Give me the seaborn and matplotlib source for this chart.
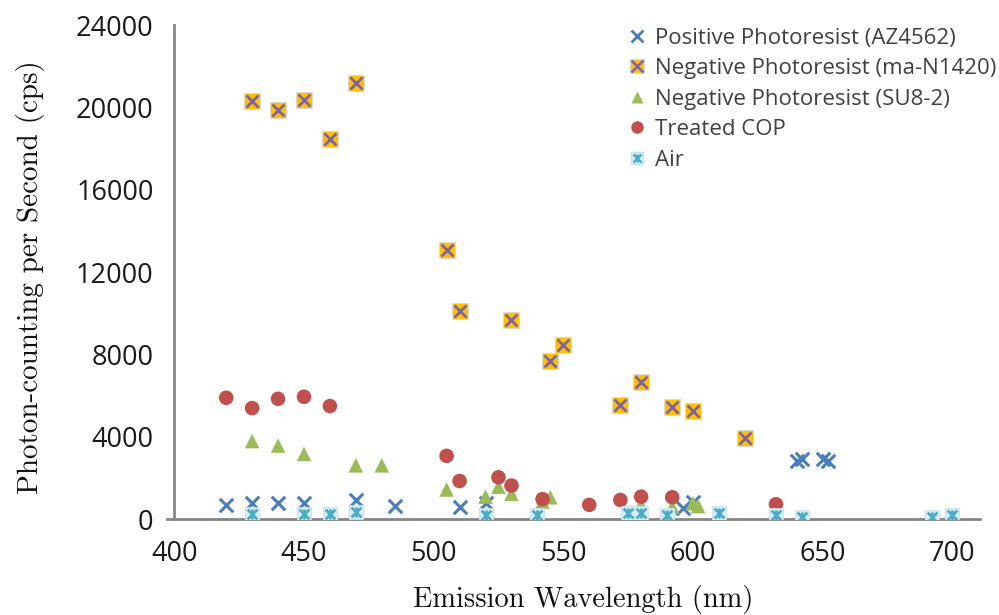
import numpy as np
import pandas as pd
import matplotlib
matplotlib.use('Agg')
import matplotlib.pyplot as plt
import seaborn as sns
from matplotlib.lines import Line2D

# Positive Photoresist (AZ4562)
pos_x = [420, 430, 440, 450, 470, 485, 510, 520, 596, 600, 640, 642, 650, 652]
pos_y = [700, 780, 780, 780, 940, 650, 610, 780, 540, 850, 2850, 2950, 2950, 2850]

# Negative Photoresist (ma-N1420)
man_x = [430, 440, 450, 460, 470, 505, 510, 530, 545, 550, 572, 580, 592, 600, 620]
man_y = [20300, 19850, 20350, 18450, 21200, 13080, 10120, 9680, 7700, 8470, 5560, 6680, 5460, 5270, 3960]

# Negative Photoresist (SU8-2)
su8_x = [430, 440, 450, 470, 480, 505, 520, 525, 530, 542, 545, 580, 592, 600, 602]
su8_y = [3800, 3580, 3170, 2620, 2620, 1450, 1100, 1580, 1240, 860, 1070, 700, 610, 780, 640]

# Treated COP
cop_x = [420, 430, 440, 450, 460, 505, 510, 525, 530, 542, 560, 572, 580, 592, 632]
cop_y = [5900, 5400, 5850, 5950, 5500, 3080, 1860, 2040, 1640, 980, 700, 940, 1100, 1070, 730]

# Air
air_x = [430, 450, 460, 470, 520, 540, 575, 580, 590, 610, 632, 642, 692, 700]
air_y = [260, 260, 260, 340, 210, 210, 290, 290, 210, 290, 210, 130, 130, 210]

labels = ['Positive Photoresist (AZ4562)', 'Negative Photoresist (ma-N1420)',
          'Negative Photoresist (SU8-2)', 'Treated COP', 'Air']

blue = '#4a7ebb'
gold = '#ffc000'
purple = '#8064a2'
green = '#9bbb59'
red = '#c0504d'
cyan = '#4bacc6'
cyan_fill = '#d6eef5'
axis_gray = '#868686'

sns.set_style('white')
plt.rcParams['font.family'] = ['Open Sans', 'DejaVu Sans']

fig = plt.figure(figsize=(9.99, 6.15), dpi=100)
ax = fig.add_axes([0.1745, 0.1556, 0.806, 0.8037])

sns.scatterplot(x=pos_x, y=pos_y, ax=ax, marker='x', s=95, color=blue, linewidth=2.2, zorder=3)
sns.scatterplot(x=man_x, y=man_y, ax=ax, marker='s', s=130, color=gold, edgecolor='#d9d9d9', linewidth=0.6, zorder=3)
sns.scatterplot(x=man_x, y=man_y, ax=ax, marker='x', s=75, color=purple, linewidth=2, zorder=4)
sns.scatterplot(x=su8_x, y=su8_y, ax=ax, marker='^', s=110, color=green, edgecolor='none', zorder=3)
sns.scatterplot(x=cop_x, y=cop_y, ax=ax, marker='o', s=110, color=red, edgecolor='none', zorder=3)
# Air: light square with a cyan asterisk (x plus a vertical bar)
sns.scatterplot(x=air_x, y=air_y, ax=ax, marker='s', s=100, color=cyan_fill, edgecolor='#c8dfe6', linewidth=0.6, zorder=5)
sns.scatterplot(x=air_x, y=air_y, ax=ax, marker='x', s=50, color=cyan, linewidth=2, zorder=6)
sns.scatterplot(x=air_x, y=air_y, ax=ax, marker='|', s=50, color=cyan, linewidth=2, zorder=6)

ax.set_xlim(400, 710.5)
ax.set_ylim(0, 24000)
ax.set_xticks([400, 450, 500, 550, 600, 650, 700])
ax.set_yticks(np.arange(0, 24001, 4000))
ax.tick_params(axis='both', labelsize=19.5, colors=axis_gray, labelcolor='#1a1a1a',
               direction='out', length=6, width=2)
ax.tick_params(axis='x', pad=8, length=7)
ax.tick_params(axis='y', pad=9)
sns.despine(ax=ax)
for side in ['left', 'bottom']:
    ax.spines[side].set_color(axis_gray)
    ax.spines[side].set_linewidth(2)
ax.spines['bottom'].set_bounds(397.2, 710.5)

ax.set_xlabel('Emission Wavelength (nm)', family='cmr10', fontsize=20.5, color='#111111')
ax.set_ylabel('Photon-counting per Second (cps)', family='cmr10', fontsize=21, color='#111111')
ax.xaxis.set_label_coords(0.5075, -0.133)
ax.yaxis.set_label_coords(-0.16, 0.49)

h_pos = Line2D([], [], marker='x', ls='none', color=blue, ms=9, mew=2)
h_man = (Line2D([], [], marker='s', ls='none', color=gold, mec='#d9d9d9', ms=10),
         Line2D([], [], marker='x', ls='none', color=purple, ms=8, mew=1.8))
h_su8 = Line2D([], [], marker='^', ls='none', color=green, mec='none', ms=9)
h_cop = Line2D([], [], marker='o', ls='none', color=red, mec='none', ms=9)
h_air = (Line2D([], [], marker='s', ls='none', color=cyan_fill, mec='#c8dfe6', ms=9),
         Line2D([], [], marker='x', ls='none', color=cyan, ms=6, mew=1.8),
         Line2D([], [], marker='|', ls='none', color=cyan, ms=6, mew=1.8))
leg = ax.legend([h_pos, h_man, h_su8, h_cop, h_air], labels, loc='upper left',
                bbox_to_anchor=(0.564, 0.995), frameon=False, fontsize=16,
                handlelength=0.8, handletextpad=0.4, labelspacing=0.43,
                borderpad=0, borderaxespad=0)
for t in leg.get_texts():
    t.set_color('#404040')

fig.savefig('out.png', dpi=100)
